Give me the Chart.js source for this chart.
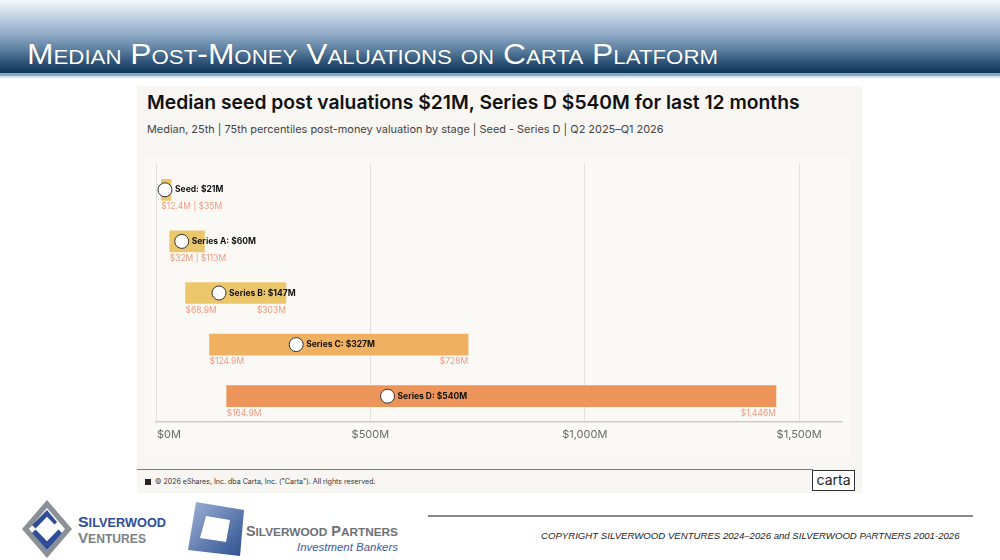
<!DOCTYPE html>
<html>
<head>
<meta charset="utf-8">
<script src="https://cdn.jsdelivr.net/npm/chart.js@4.4.1/dist/chart.umd.min.js"></script>
<style>
  html, body { margin: 0; padding: 0; }
  body { width: 1000px; height: 560px; position: relative; background: #ffffff; overflow: hidden; font-family: Inter, "Noto Sans", sans-serif; }
  #header { position: absolute; left: 0; top: 0; width: 1000px; height: 73px;
    background: linear-gradient(to bottom, #f5f8fb 0%, #c3d3e3 22%, #94afca 45%, #5d7fa0 68%, #2b5175 86%, #0f3554 100%); }
  #header-line { position: absolute; left: 0; top: 73px; width: 1000px; height: 3px; background: #86a9ca; }
  #header-line2 { position: absolute; left: 0; top: 76px; width: 1000px; height: 2px; background: #d6e2ee; }
  #header-title { position: absolute; left: 27px; top: 39px; color: #ffffff; font-family: "Liberation Sans", Arial, sans-serif;
    font-size: 30px; line-height: 30px; font-variant: small-caps; white-space: nowrap; transform-origin: 0 0; text-shadow: 0 0 1px rgba(0,0,0,0.3); }
  #panel { position: absolute; left: 137px; top: 86px; width: 725px; height: 407px; background: #f8f6f2; }
  #plotbox { position: absolute; left: 145px; top: 157px; width: 705px; height: 298px; background: #fbf9f6; }
  #title { position: absolute; left: 147px; top: 90px; font-size: 19px; font-weight: 600; color: #111; white-space: nowrap; }
  #subtitle { position: absolute; left: 147px; top: 122px; font-size: 12px; color: #444; white-space: nowrap; }
  #chartwrap { position: absolute; left: 140px; top: 156px; width: 720px; height: 299px; }
  #footline { position: absolute; left: 137px; top: 469px; width: 676px; height: 1px; background: #7a7a7a; }
  #bullet { position: absolute; left: 145px; top: 479px; width: 6px; height: 6px; background: #222; }
  #foottext { position: absolute; left: 155px; top: 477px; font-size: 7.5px; color: #333; white-space: nowrap; }
  #cartabox { position: absolute; left: 812px; top: 470px; width: 41px; height: 19px; border: 1.5px solid #333; background: #fff;
    font-size: 14px; line-height: 18px; text-align: center; color: #222; }
  #rule { position: absolute; left: 428px; top: 515px; width: 545px; height: 2px; background: #8a8a8a; }
  #copy { position: absolute; left: 541px; top: 530px; font-family: "Liberation Sans Narrow", Arial, sans-serif; font-style: italic; font-size: 8px; color: #222; white-space: nowrap; }
  .logo { position: absolute; }
</style>
</head>
<body>
<div id="header"></div>
<div id="header-line"></div>
<div id="header-line2"></div>
<div id="header-title">Median Post-Money Valuations on Carta Platform</div>

<div id="panel"></div>
<div id="plotbox"></div>
<div id="title">Median seed post valuations $21M, Series D $540M for last 12 months</div>
<div id="subtitle">Median, 25th | 75th percentiles post-money valuation by stage | Seed - Series D | Q2 2025–Q1 2026</div>
<div id="chartwrap"><canvas id="chart"></canvas></div>
<div id="footline"></div>
<div id="bullet"></div>
<div id="foottext">© 2026 eShares, Inc. dba Carta, Inc. ("Carta"). All rights reserved.</div>
<div id="cartabox">carta</div>

<!-- logos -->
<svg class="logo" style="left:20px;top:498px" width="160" height="62" viewBox="0 0 160 62">
  <polygon points="27,2 52,31 27,60 2,31" fill="#8a9096"/>
  <polygon points="27,10 45,31 27,52 9,31" fill="#ffffff"/>
  <polygon points="27,12 37,24 34,27 27,19 16,31 12,27" fill="#2f4d96"/>
  <polygon points="12,35 16,31 27,43 38,31 42,35 27,52" fill="#2f4d96"/>
  <polygon points="27,19 39,31 27,43 15,31" fill="#ffffff"/>
  <text x="58" y="29" font-family="Liberation Sans, Arial" font-weight="bold" font-size="15" fill="#2f4d96" textLength="88" lengthAdjust="spacingAndGlyphs">S<tspan font-size="12">ILVERWOOD</tspan></text>
  <text x="58" y="45" font-family="Liberation Sans, Arial" font-weight="bold" font-size="15" fill="#7b7f84" textLength="68" lengthAdjust="spacingAndGlyphs">V<tspan font-size="12">ENTURES</tspan></text>
</svg>
<svg class="logo" style="left:186px;top:498px" width="220" height="62" viewBox="0 0 220 62">
  <defs>
    <linearGradient id="pg" x1="0" y1="0" x2="1" y2="1">
      <stop offset="0" stop-color="#9fb2d6"/>
      <stop offset="1" stop-color="#2c4f8f"/>
    </linearGradient>
  </defs>
  <polygon points="10,4 58,12 54,58 2,52" fill="url(#pg)"/>
  <polygon points="20,18 44,22 40,44 14,40" fill="#ffffff"/>
  <text x="60" y="38" font-family="Liberation Sans, Arial" font-weight="bold" font-size="14" fill="#6d7075" textLength="152" lengthAdjust="spacingAndGlyphs">S<tspan font-size="11.5">ILVERWOOD</tspan> P<tspan font-size="11.5">ARTNERS</tspan></text>
  <text x="111" y="53" font-family="Liberation Sans, Arial" font-style="italic" font-size="11" fill="#3c5c9c" textLength="101" lengthAdjust="spacingAndGlyphs">Investment Bankers</text>
</svg>
<div id="rule"></div>
<div id="copy">COPYRIGHT SILVERWOOD VENTURES 2024–2026 and SILVERWOOD PARTNERS 2001-2026</div>

<script>
// Données (millions $)
var stages = ['Seed', 'Series A', 'Series B', 'Series C', 'Series D'];
var p25 = [12.4, 32, 68.9, 124.9, 164.9];
var p75 = [35, 113, 303, 728, 1446];
var medians = [21, 60, 147, 327, 540];
var lowLabels = ['$12.4M', '$32M', '$68.9M', '$124.9M', '$164.9M'];
var highLabels = ['$35M', '$113M', '$303M', '$728M', '$1,446M'];
var barColors = ['#ecc66a', '#ecc66a', '#ecc66a', '#efb062', '#ec945a'];
var tickValues = [0, 500, 1000, 1500];

// Ajuste la largeur des textes
function fitWidth(id, width) {
    var el = document.getElementById(id);
    var w = el.getBoundingClientRect().width;
    var size = parseFloat(getComputedStyle(el).fontSize);
    el.style.fontSize = (size * width / w) + 'px';
}
function squeeze(id, width) {
    var el = document.getElementById(id);
    var w = el.getBoundingClientRect().width;
    el.style.transform = 'scaleX(' + (width / w) + ')';
}
squeeze('header-title', 691);
fitWidth('title', 653);
fitWidth('subtitle', 517);
fitWidth('foottext', 221);
fitWidth('copy', 419);

var ranges = [];
for (var i = 0; i < stages.length; i++) {
    ranges.push([p25[i], p75[i]]);
}

function money(v) {
    return '$' + v.toLocaleString('en-US') + 'M';
}

// Plugin pour les étiquettes
var labelPlugin = {
    id: 'labels',
    afterDraw: function (chart) {
        var ctx = chart.ctx;
        var x = chart.scales.x;
        var y = chart.scales.y;
        ctx.save();
        ctx.textBaseline = 'middle';
        for (var i = 0; i < stages.length; i++) {
            var cy = y.getPixelForValue(i);
            var mx = x.getPixelForValue(medians[i]);
            ctx.fillStyle = '#111';
            ctx.font = 'bold 8.5px Inter, sans-serif';
            ctx.textAlign = 'left';
            ctx.fillText(stages[i] + ': ' + money(medians[i]), mx + 10, cy);

            ctx.fillStyle = '#ef9a7e';
            ctx.font = '8.5px Inter, sans-serif';
            var lx = x.getPixelForValue(p25[i]);
            var hx = x.getPixelForValue(p75[i]);
            if (i < 2) {
                ctx.textAlign = 'left';
                ctx.fillText(lowLabels[i] + ' | ' + highLabels[i], lx, cy + 17);
            } else {
                ctx.textAlign = 'left';
                ctx.fillText(lowLabels[i], lx, cy + 17);
                ctx.textAlign = 'right';
                ctx.fillText(highLabels[i], hx, cy + 17);
            }
        }
        // graduations de l'axe x
        ctx.fillStyle = '#6b6b6b';
        ctx.font = '11px Inter, sans-serif';
        x.ticks.forEach(function (t, k) {
            var px = x.getPixelForValue(t.value);
            ctx.textAlign = k === 0 ? 'left' : 'center';
            ctx.fillText(money(t.value), k === 0 ? px + 1 : px, chart.chartArea.bottom + 13);
        });
        ctx.restore();
    }
};

var ctx = document.getElementById('chart').getContext('2d');
new Chart(ctx, {
    type: 'bar',
    data: {
        labels: stages,
        datasets: [{
            type: 'line',
            data: medians,
            showLine: false,
            pointRadius: 7,
            pointHoverRadius: 7,
            pointBackgroundColor: '#ffffff',
            pointBorderColor: '#333333',
            pointBorderWidth: 1,
            order: 0
        }, {
            data: ranges,
            backgroundColor: barColors,
            borderWidth: 0,
            borderSkipped: false,
            barThickness: 21,
            order: 1
        }]
    },
    options: {
        indexAxis: 'y',
        responsive: true,
        maintainAspectRatio: false,
        animation: false,
        layout: { padding: { left: 16, right: 18, top: 3, bottom: 0 } },
        plugins: {
            legend: { display: false },
            tooltip: { enabled: false }
        },
        scales: {
            x: {
                min: 0,
                max: 1600,
                ticks: { display: false, stepSize: 500 },
                afterBuildTicks: function (axis) {
                    axis.ticks = tickValues.map(function (v) { return { value: v }; });
                },
                afterFit: function (axis) { axis.height = 33; },
                grid: { color: '#e3e0db', lineWidth: 1, drawTicks: false },
                border: { color: '#cfccc7', width: 1.5 }
            },
            y: {
                display: false
            }
        }
    },
    plugins: [labelPlugin]
});
</script>
</body>
</html>
